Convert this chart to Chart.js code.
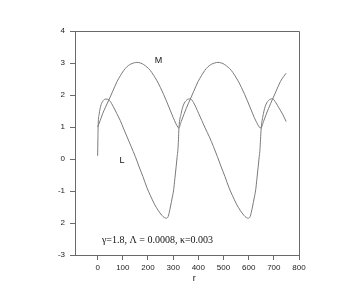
<!DOCTYPE html>
<html>
<head>
<meta charset="utf-8">
<script src="https://cdn.jsdelivr.net/npm/chart.js@4"></script>
<style>
html, body { margin: 0; padding: 0; background: #fff; }
</style>
</head>
<body>
<canvas id="chart" width="363" height="305"></canvas>
<script>
// Curve M
const mX = [0, 10, 20, 30, 46, 60, 77, 90, 103, 116, 130, 143, 156, 170, 183, 196, 209, 222, 236, 249, 262, 275, 288, 300, 310, 318, 322,
    332, 342, 352, 368, 382, 399, 412, 425, 438, 452, 465, 478, 492, 505, 518, 531, 544, 558, 571, 584, 597, 610, 622, 632, 641, 649,
    659, 669, 679, 695, 709, 726, 739, 749];
const mY = [1.0, 1.2, 1.42, 1.6, 1.87, 2.12, 2.42, 2.6, 2.76, 2.88, 2.96, 3.0, 3.02, 3.0, 2.95, 2.87, 2.77, 2.62, 2.44, 2.24, 2.02, 1.78, 1.53, 1.3, 1.12, 1.0, 0.97,
    1.17, 1.38, 1.58, 1.87, 2.12, 2.42, 2.6, 2.76, 2.88, 2.96, 3.0, 3.02, 3.0, 2.95, 2.87, 2.77, 2.62, 2.44, 2.24, 2.02, 1.78, 1.53, 1.3, 1.14, 1.01, 0.97,
    1.17, 1.38, 1.58, 1.87, 2.12, 2.42, 2.58, 2.68];

// Curve L
const lX = [0, 1, 2, 6, 12, 20, 30, 40, 50, 62, 76, 90, 104, 117, 133, 150, 165, 180, 196, 210, 225, 240, 255, 265, 273,
    280, 289, 296, 302, 307, 312, 316, 319, 321, 323,
    332, 341, 355, 368, 381, 401, 427, 444, 460, 476, 491, 506, 522, 536, 551, 566, 581, 591, 599,
    606, 615, 622, 628, 633, 638, 642, 645, 647, 650,
    659, 668, 682, 695, 708, 720, 735, 749];
const lY = [0.1, 0.6, 1.05, 1.4, 1.65, 1.8, 1.87, 1.87, 1.8, 1.64, 1.42, 1.2, 0.93, 0.69, 0.39, 0.07, -0.25, -0.55, -0.9, -1.15, -1.4, -1.6, -1.76, -1.83, -1.85,
    -1.8, -1.5, -1.22, -0.96, -0.6, -0.23, 0.08, 0.3, 0.6, 0.97,
    1.43, 1.69, 1.85, 1.88, 1.76, 1.43, 0.97, 0.69, 0.39, 0.07, -0.25, -0.55, -0.9, -1.15, -1.4, -1.6, -1.76, -1.83, -1.85,
    -1.8, -1.5, -1.22, -0.96, -0.6, -0.23, 0.08, 0.3, 0.6, 0.97,
    1.43, 1.69, 1.85, 1.88, 1.76, 1.6, 1.4, 1.17];

// Axis ticks
const xTicks = [0, 100, 200, 300, 400, 500, 600, 700, 800];
const yTickLabels = ['-3', '2', '-1', '0', '1', '2', '3', '4'];

const lineColor = '#7a7a7a';
const axisColor = '#6a6a6a';

function toPoints(xs, ys) {
    return xs.map((x, i) => ({ x: x, y: ys[i] }));
}

// Frame on top/right plus the text labels
const extras = {
    id: 'extras',
    afterDraw(chart) {
        const ctx = chart.ctx;
        const a = chart.chartArea;
        const xs = chart.scales.x;
        const ys = chart.scales.y;
        ctx.save();
        ctx.strokeStyle = axisColor;
        ctx.lineWidth = 1;
        ctx.beginPath();
        ctx.moveTo(a.left, Math.round(a.top) + 0.5);
        ctx.lineTo(Math.round(a.right) + 0.5, Math.round(a.top) + 0.5);
        ctx.lineTo(Math.round(a.right) + 0.5, a.bottom);
        ctx.stroke();

        ctx.fillStyle = '#111';
        ctx.textBaseline = 'middle';
        ctx.textAlign = 'center';
        ctx.font = '9px "Liberation Sans"';
        ctx.fillText('M', xs.getPixelForValue(242), ys.getPixelForValue(3.07));
        ctx.fillText('L', xs.getPixelForValue(97), ys.getPixelForValue(-0.04));
        ctx.fillText('r', xs.getPixelForValue(384), a.bottom + 24);

        ctx.textAlign = 'left';
        ctx.font = '10px "Liberation Serif"';
        ctx.fillText('\u03b3=1.8, \u039b = 0.0008, \u03ba=0.003', xs.getPixelForValue(17), ys.getPixelForValue(-2.54));
        ctx.restore();
    }
};

const ctx = document.getElementById('chart').getContext('2d');
const chart = new Chart(ctx, {
    type: 'scatter',
    data: {
        datasets: [
            {
                label: 'M',
                data: toPoints(mX, mY),
                showLine: true,
                borderColor: lineColor,
                borderWidth: 1,
                pointRadius: 0,
                cubicInterpolationMode: 'monotone'
            },
            {
                label: 'L',
                data: toPoints(lX, lY),
                showLine: true,
                borderColor: lineColor,
                borderWidth: 1,
                pointRadius: 0,
                cubicInterpolationMode: 'monotone'
            }
        ]
    },
    options: {
        responsive: false,
        animation: false,
        layout: {
            padding: { top: 31, right: 64, bottom: 0, left: 0 }
        },
        scales: {
            x: {
                type: 'linear',
                min: -90,
                max: 800,
                afterBuildTicks: function(scale) {
                    scale.ticks = xTicks.map(v => ({ value: v }));
                },
                afterFit: function(scale) {
                    scale.height = 50;
                },
                grid: { drawOnChartArea: false, tickLength: 5, color: axisColor },
                border: { color: axisColor },
                ticks: {
                    padding: 3,
                    maxRotation: 0,
                    color: '#222',
                    font: { family: 'Liberation Sans', size: 8 }
                }
            },
            y: {
                min: -3,
                max: 4,
                afterFit: function(scale) {
                    scale.width = 75;
                },
                grid: { drawOnChartArea: false, tickLength: 5, color: axisColor },
                border: { color: axisColor },
                ticks: {
                    stepSize: 1,
                    padding: 5,
                    color: '#222',
                    font: { family: 'Liberation Sans', size: 8 },
                    callback: function(value) {
                        return yTickLabels[value + 3];
                    }
                }
            }
        },
        plugins: {
            legend: { display: false },
            tooltip: { enabled: false }
        }
    },
    plugins: [extras]
});
</script>
</body>
</html>
